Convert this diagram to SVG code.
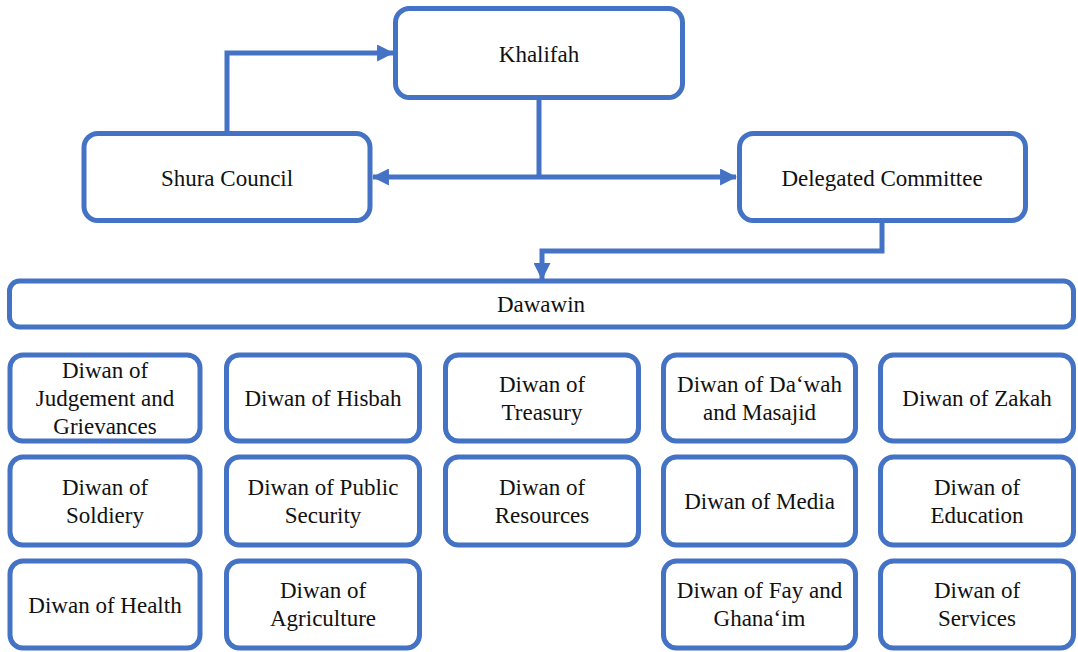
<svg xmlns="http://www.w3.org/2000/svg" width="1078" height="652" viewBox="0 0 1078 652">
<defs>
<style>
.box{fill:#fff;stroke:#4472C4;stroke-width:5}
.lbl{font-family:'Liberation Serif','DejaVu Serif',serif;font-size:23px;fill:#111;text-anchor:middle}
.conn{fill:none;stroke:#4472C4;stroke-width:5}
</style>
<marker id="arr" markerUnits="userSpaceOnUse" markerWidth="17" markerHeight="17" viewBox="0 0 16 16" refX="15" refY="8" orient="auto">
<path d="M0,0 L16,8 L0,16 z" fill="#4472C4"/>
</marker>
</defs>
<rect width="1078" height="652" fill="#fff"/>
<g id="khalifah"><rect class="box" x="395.5" y="8.5" width="287" height="89" rx="14"/><text class="lbl" x="539" y="62">Khalifah</text></g>
<g id="shura"><rect class="box" x="84" y="133.5" width="286" height="87" rx="14"/><text class="lbl" x="227" y="186">Shura Council</text></g>
<g id="delegated"><rect class="box" x="739.5" y="133.5" width="286" height="87" rx="14"/><text class="lbl" x="882" y="186">Delegated Committee</text></g>
<g id="dawawin"><rect class="box" x="9.5" y="281" width="1064" height="46" rx="10"/><text class="lbl" x="541" y="312">Dawawin</text></g>
<g id="connectors">
<path class="conn" d="M227,132 V53 H393" marker-end="url(#arr)"/>
<path class="conn" d="M539,99 V177"/>
<path class="conn" d="M539,177 H373" marker-end="url(#arr)"/>
<path class="conn" d="M539,177 H736" marker-end="url(#arr)"/>
<path class="conn" d="M882,222 V251 H542 V279" marker-end="url(#arr)"/>
</g>
<g id="d-judgement"><rect class="box" x="10" y="355" width="190" height="86" rx="13"/><text class="lbl" x="105" y="377.5">Diwan of</text><text class="lbl" x="105" y="405.5">Judgement and</text><text class="lbl" x="105" y="433.5">Grievances</text></g>
<g id="d-soldiery"><rect class="box" x="10" y="457" width="190" height="88" rx="13"/><text class="lbl" x="105" y="495">Diwan of</text><text class="lbl" x="105" y="523">Soldiery</text></g>
<g id="d-health"><rect class="box" x="10" y="561" width="190" height="87" rx="13"/><text class="lbl" x="105" y="613">Diwan of Health</text></g>
<g id="d-hisbah"><rect class="box" x="226.5" y="355" width="193" height="86" rx="13"/><text class="lbl" x="323" y="405.5">Diwan of Hisbah</text></g>
<g id="d-security"><rect class="box" x="226.5" y="457" width="193" height="88" rx="13"/><text class="lbl" x="323" y="495">Diwan of Public</text><text class="lbl" x="323" y="523">Security</text></g>
<g id="d-agriculture"><rect class="box" x="226.5" y="561" width="193" height="87" rx="13"/><text class="lbl" x="323" y="598">Diwan of</text><text class="lbl" x="323" y="626">Agriculture</text></g>
<g id="d-treasury"><rect class="box" x="445.5" y="355" width="193" height="86" rx="13"/><text class="lbl" x="542" y="392">Diwan of</text><text class="lbl" x="542" y="420">Treasury</text></g>
<g id="d-resources"><rect class="box" x="445.5" y="457" width="193" height="88" rx="13"/><text class="lbl" x="542" y="495">Diwan of</text><text class="lbl" x="542" y="523">Resources</text></g>
<g id="d-dawah"><rect class="box" x="663.5" y="355" width="192" height="86" rx="13"/><text class="lbl" x="759.5" y="392">Diwan of Da‘wah</text><text class="lbl" x="759.5" y="420">and Masajid</text></g>
<g id="d-media"><rect class="box" x="663.5" y="457" width="192" height="88" rx="13"/><text class="lbl" x="759.5" y="509">Diwan of Media</text></g>
<g id="d-fay"><rect class="box" x="663.5" y="561" width="192" height="87" rx="13"/><text class="lbl" x="759.5" y="598">Diwan of Fay and</text><text class="lbl" x="759.5" y="626">Ghana‘im</text></g>
<g id="d-zakah"><rect class="box" x="880.5" y="355" width="193" height="86" rx="13"/><text class="lbl" x="977" y="405.5">Diwan of Zakah</text></g>
<g id="d-education"><rect class="box" x="880.5" y="457" width="193" height="88" rx="13"/><text class="lbl" x="977" y="495">Diwan of</text><text class="lbl" x="977" y="523">Education</text></g>
<g id="d-services"><rect class="box" x="880.5" y="561" width="193" height="87" rx="13"/><text class="lbl" x="977" y="598">Diwan of</text><text class="lbl" x="977" y="626">Services</text></g>
</svg>
